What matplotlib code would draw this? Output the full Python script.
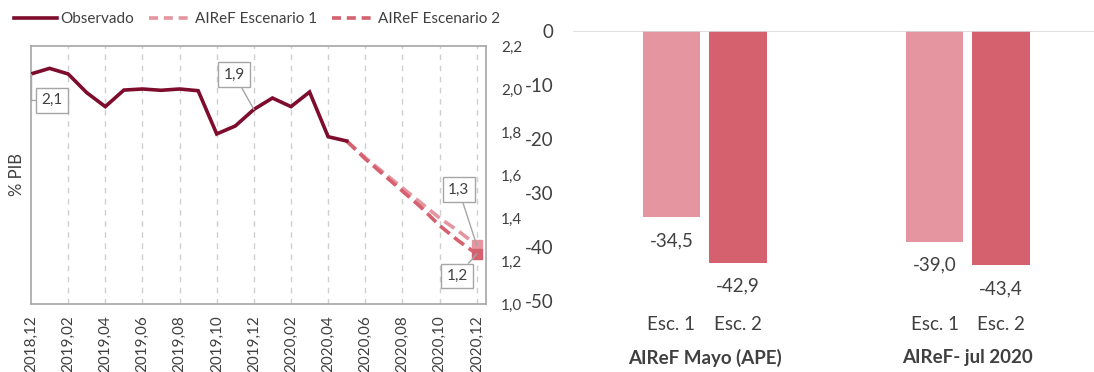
import matplotlib
matplotlib.use("Agg")
import matplotlib.pyplot as plt
from matplotlib.lines import Line2D
from matplotlib.transforms import blended_transform_factory

# ---- data: left panel (monthly, % PIB) ----
month_labels = ["2018,12", "2019,01", "2019,02", "2019,03", "2019,04", "2019,05",
                "2019,06", "2019,07", "2019,08", "2019,09", "2019,10", "2019,11",
                "2019,12", "2020,01", "2020,02", "2020,03", "2020,04", "2020,05",
                "2020,06", "2020,07", "2020,08", "2020,09", "2020,10", "2020,11",
                "2020,12"]
observado = [2.07, 2.096, 2.07, 1.983, 1.918, 1.995, 2.0, 1.994, 2.0, 1.992,
             1.791, 1.828, 1.905, 1.958, 1.918, 1.986, 1.778, 1.758]
escenario1 = [1.758, 1.68, 1.61, 1.54, 1.47, 1.40, 1.34, 1.274]
escenario2 = [1.758, 1.675, 1.60, 1.525, 1.45, 1.365, 1.295, 1.233]
left_yticks = [1.0, 1.2, 1.4, 1.6, 1.8, 2.0, 2.2]

# ---- data: right panel (bars) ----
groups = ["AIReF Mayo (APE)", "AIReF- jul 2020"]
esc_names = ["Esc. 1", "Esc. 2"]
bars_esc1 = [-34.5, -39.0]
bars_esc2 = [-42.9, -43.4]
right_yticks = [0, -10, -20, -30, -40, -50]

# ---- styling ----
C_OBS = "#7E0C2D"
C_E1 = "#E4959F"
C_E2 = "#D5616F"
C_TXT = "#404040"
C_GRID = "#CFCFCF"
C_FRAME = "#A6A6A6"
FONT = "Lato"

plt.rcParams["font.family"] = [FONT, "DejaVu Sans"]
plt.rcParams["axes.unicode_minus"] = False


def fmt(v, nd=1):
    return f"{v:.{nd}f}".replace(".", ",")


fig = plt.figure(figsize=(10.94, 3.72), dpi=100)
W, H = 1094, 372


def px_axes(l, t, r, b):
    return fig.add_axes([l / W, 1 - b / H, (r - l) / W, (b - t) / H])


# ================= left panel =================
ax = px_axes(31, 46, 486, 304)
n_obs = len(observado)
x_obs = list(range(n_obs))
x_fc = list(range(n_obs - 1, n_obs - 1 + len(escenario1)))

for m in range(2, len(month_labels), 2):
    ax.axvline(m, color=C_GRID, lw=1.0, dashes=(4, 4), zorder=1)

ax.plot(x_fc, escenario1, color=C_E1, lw=2.6, dashes=(3.4, 1.6), zorder=3,
        solid_capstyle="butt")
ax.plot(x_fc, escenario2, color=C_E2, lw=2.6, dashes=(3.4, 1.6), zorder=3,
        solid_capstyle="butt")
ax.plot(x_obs, observado, color=C_OBS, lw=2.6, zorder=4, solid_joinstyle="miter")
ax.plot([x_fc[-1]], [escenario1[-1]], marker="s", ms=7.5, color=C_E1, zorder=5)
ax.plot([x_fc[-1]], [escenario2[-1]], marker="s", ms=7.5, color=C_E2, zorder=5)

ax.set_xlim(0, 24.5)
ax.set_ylim(1.0, 2.2)
ax.set_xticks(range(0, len(month_labels), 2))
ax.set_xticklabels(month_labels[::2], rotation=90, fontsize=11, color=C_TXT)
ax.yaxis.tick_right()
ax.set_yticks(left_yticks)
ax.set_yticklabels([fmt(v) for v in left_yticks], fontsize=11, color=C_TXT)
ax.tick_params(axis="both", length=0)
ax.tick_params(axis="x", pad=8)
ax.tick_params(axis="y", pad=11)
ax.yaxis.set_label_position("left")
ax.set_ylabel("% PIB", fontsize=12, color=C_TXT, labelpad=4)
for s in ax.spines.values():
    s.set_color(C_FRAME)
    s.set_linewidth(1.2)

box = dict(boxstyle="square,pad=0.35", fc="white", ec=C_FRAME, lw=1)
arrow = dict(arrowstyle="-", color=C_FRAME, lw=1, shrinkA=0, shrinkB=0)

ax.annotate(fmt(observado[0]), xy=(0, observado[0]), xytext=(15, -19),
            textcoords="offset points", ha="center", va="center",
            fontsize=11, color=C_TXT, bbox=box, zorder=6,
            arrowprops=dict(arrow, connectionstyle="angle,angleA=0,angleB=90,rad=0"))
ax.annotate(fmt(observado[12]), xy=(12, observado[12]), xytext=(-14, 25),
            textcoords="offset points", ha="center", va="center",
            fontsize=11, color=C_TXT, bbox=box, zorder=6, arrowprops=arrow)
ax.annotate(fmt(escenario1[-1]), xy=(x_fc[-1], escenario1[-1]), xytext=(-13, 40),
            textcoords="offset points", ha="center", va="center",
            fontsize=11, color=C_TXT, bbox=box, zorder=6, arrowprops=arrow)
ax.annotate(fmt(escenario2[-1]), xy=(x_fc[-1], escenario2[-1]), xytext=(-14, -16),
            textcoords="offset points", ha="center", va="center",
            fontsize=11, color=C_TXT, bbox=box, zorder=6, arrowprops=arrow)

handles = [
    Line2D([], [], color=C_OBS, lw=2.6),
    Line2D([], [], color=C_E1, lw=2.6, dashes=(2.5, 1.6)),
    Line2D([], [], color=C_E2, lw=2.6, dashes=(2.5, 1.6)),
]
leg = fig.legend(handles, ["Observado", "AIReF Escenario 1", "AIReF Escenario 2"],
                 loc="center left", bbox_to_anchor=(14 / W, 1 - 19 / H), ncol=3,
                 frameon=False, fontsize=11, handlelength=2.8, handletextpad=0.2,
                 columnspacing=1.0, borderaxespad=0, borderpad=0)
for t in leg.get_texts():
    t.set_color(C_TXT)

# ================= right panel =================
bx = px_axes(573, 31, 1094, 301)
gx = list(range(len(groups)))
off, bw = 0.126, 0.219
x1 = [g - off for g in gx]
x2 = [g + off for g in gx]
bx.bar(x1, bars_esc1, width=bw, color=C_E1, zorder=2)
bx.bar(x2, bars_esc2, width=bw, color=C_E2, zorder=2)
bx.axhline(0, color="#D9D9D9", lw=1.2, zorder=3)

for xs, vals in ((x1, bars_esc1), (x2, bars_esc2)):
    for x, v in zip(xs, vals):
        bx.annotate(fmt(v), xy=(x, v), xytext=(0, -10.5), textcoords="offset points",
                    ha="center", va="top", fontsize=13.5, color=C_TXT)

bx.set_xlim(-0.5, 1.48)
bx.set_ylim(-50, 0)
bx.set_yticks(right_yticks)
bx.set_yticklabels([str(v) for v in right_yticks], fontsize=13.5, color=C_TXT)
bx.set_xticks(x1 + x2)
bx.set_xticklabels([esc_names[0]] * len(gx) + [esc_names[1]] * len(gx),
                   fontsize=13.5, color=C_TXT)
bx.tick_params(axis="both", length=0)
bx.tick_params(axis="x", pad=11)
bx.tick_params(axis="y", pad=14)
for s in bx.spines.values():
    s.set_visible(False)

tr = blended_transform_factory(bx.transData, bx.transAxes)
for g, name in zip(gx, groups):
    bx.text(g, -0.211, name, transform=tr, ha="center", va="center",
            fontsize=13.5, fontweight="bold", color=C_TXT)

fig.savefig("out.png", dpi=100, facecolor="white")
